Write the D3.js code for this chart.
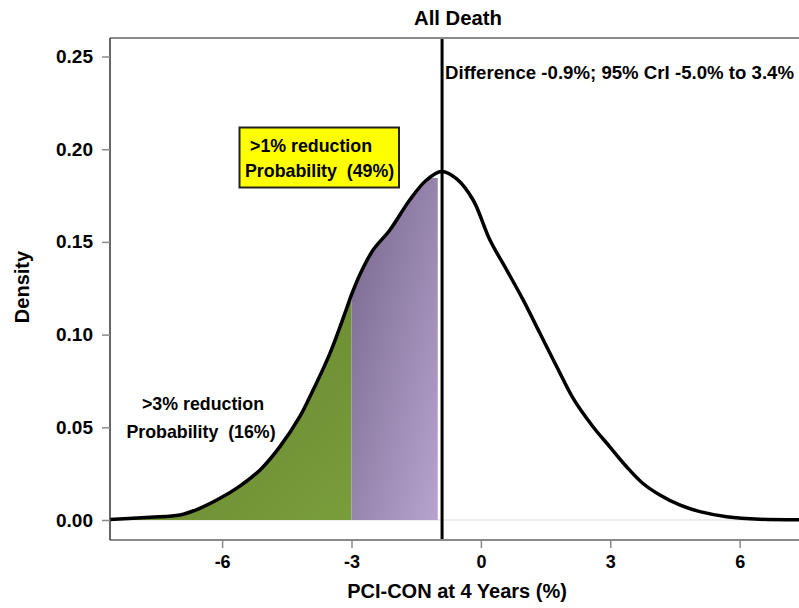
<!DOCTYPE html>
<html><head><meta charset="utf-8">
<script src="https://cdn.jsdelivr.net/npm/d3@7"></script>
<style>
html,body{margin:0;padding:0;background:#fff;}
svg{display:block;}
text{font-family:"Liberation Sans",Arial,sans-serif;font-weight:bold;fill:#000;}
</style></head>
<body>
<svg id="chart" width="799" height="608"></svg>
<script>
// ---- data ----
const diffX = [-8.60,-7.67,-6.98,-6.52,-6.05,-5.59,-5.12,-4.66,-4.20,-3.89,-3.50,-3.11,-3.00,-2.81,-2.50,-2.11,-1.65,-1.26,-0.91,-0.56,-0.18,0.21,0.60,0.98,1.37,1.76,2.14,2.60,2.99,3.38,3.76,4.15,4.61,5.08,5.70,6.47,7.40];
const density = [0.0003,0.0015,0.0027,0.0063,0.0117,0.0183,0.0270,0.0396,0.0557,0.0701,0.0899,0.1143,0.1215,0.1322,0.1456,0.1564,0.1726,0.1834,0.1880,0.1840,0.1726,0.1510,0.1348,0.1187,0.1007,0.0827,0.0656,0.0503,0.0395,0.0287,0.0197,0.0135,0.0081,0.0045,0.0018,0.0004,0.0002];
const xTicks = [-6,-3,0,3,6];
const yTicks = [0,0.05,0.10,0.15,0.20,0.25];
const meanDiff = -0.9;
const cut3 = -3, cut1 = -1;
const title = "All Death";
const xTitle = "PCI-CON at 4 Years (%)";
const yTitle = "Density";
const ciText = "Difference -0.9%; 95% CrI -5.0% to 3.4%";

const svg = d3.select("#chart");
const x = d3.scaleLinear().domain([-8.6, 7.4]).range([110, 800]);
const y = d3.scaleLinear().domain([0, 0.25]).range([520, 56.5]);
const plotTop = 38, plotBottom = 540, plotLeft = 110, plotRight = 799;

const pts = diffX.map((d,i)=>[d, density[i]]);
const curve = d3.curveCatmullRom.alpha(0.5);
const area = d3.area().x(d=>x(d[0])).y0(y(0)).y1(d=>y(d[1])).curve(curve);

const defs = svg.append("defs");
const g1 = defs.append("linearGradient").attr("id","gGreen").attr("x1","0").attr("y1","0").attr("x2","1").attr("y2","1");
g1.append("stop").attr("offset","0").attr("stop-color","#62802a");
g1.append("stop").attr("offset","1").attr("stop-color","#7a9d3c");
const g2 = defs.append("linearGradient").attr("id","gPurple").attr("x1","0").attr("y1","0").attr("x2","1").attr("y2","1");
g2.append("stop").attr("offset","0").attr("stop-color","#76668b");
g2.append("stop").attr("offset","1").attr("stop-color","#b6a4cf");
defs.append("clipPath").attr("id","cArea").append("path").datum(pts).attr("d",area);

// baseline
svg.append("line").attr("x1",plotLeft).attr("x2",plotRight).attr("y1",y(0)).attr("y2",y(0))
  .attr("stroke","#dcdcdc").attr("stroke-width",1.2);

// shaded regions: rects clipped by the density area
const maxIn = (a,b)=> d3.max(pts.filter(p=>p[0]>=a && p[0]<=b), p=>p[1]);
svg.append("rect").attr("x",x(-8.6)).attr("width",x(cut3)-x(-8.6))
  .attr("y",y(maxIn(-8.6,cut3))).attr("height",y(0)-y(maxIn(-8.6,cut3)))
  .attr("fill","url(#gGreen)").attr("clip-path","url(#cArea)");
svg.append("rect").attr("x",x(cut3)).attr("width",x(cut1)-x(cut3))
  .attr("y",y(maxIn(cut3,cut1))-2).attr("height",y(0)-y(maxIn(cut3,cut1))+2)
  .attr("fill","url(#gPurple)").attr("clip-path","url(#cArea)");

const line = d3.line().x(d=>x(d[0])).y(d=>y(d[1])).curve(curve);
svg.append("path").datum(pts).attr("d",line).attr("fill","none").attr("stroke","#000").attr("stroke-width",3.5).attr("stroke-linejoin","round");

// vertical mean line
svg.append("line").attr("x1",x(meanDiff)).attr("x2",x(meanDiff)).attr("y1",plotTop).attr("y2",plotBottom)
  .attr("stroke","#000").attr("stroke-width",3);

// frame
svg.append("line").attr("x1",plotLeft).attr("x2",plotRight).attr("y1",plotTop).attr("y2",plotTop).attr("stroke","#8a8a8a").attr("stroke-width",2);
svg.append("line").attr("x1",plotLeft).attr("x2",plotRight).attr("y1",plotBottom).attr("y2",plotBottom).attr("stroke","#8a8a8a").attr("stroke-width",2);
svg.append("line").attr("x1",plotLeft).attr("x2",plotLeft).attr("y1",plotTop).attr("y2",plotBottom).attr("stroke","#333").attr("stroke-width",1.5);

// axes
const xAxis = d3.axisBottom(x).tickValues(xTicks).tickSize(8).tickPadding(7).tickFormat(d3.format("d"));
const gx = svg.append("g").attr("transform",`translate(0,${plotBottom})`).call(xAxis);
gx.select(".domain").remove();
gx.selectAll(".tick line").attr("stroke","#8a8a8a").attr("stroke-width",1.5);
gx.selectAll(".tick text").attr("font-size",18).style("font-family","Liberation Sans, Arial, sans-serif").style("font-weight","bold").attr("fill","#000")
  .text(d=> d<0 ? "-"+Math.abs(d) : d);

const yAxis = d3.axisLeft(y).tickValues(yTicks).tickSize(8).tickPadding(9).tickFormat(d3.format(".2f"));
const gy = svg.append("g").attr("transform",`translate(${plotLeft},0)`).call(yAxis);
gy.select(".domain").remove();
gy.selectAll(".tick line").attr("stroke","#8a8a8a").attr("stroke-width",1.5);
gy.selectAll(".tick text").attr("font-size",19).style("font-family","Liberation Sans, Arial, sans-serif").style("font-weight","bold").attr("fill","#000");

// titles
svg.append("text").attr("x",458).attr("y",25).attr("text-anchor","middle").attr("font-size",20.3).text(title);
svg.append("text").attr("x",457).attr("y",598).attr("text-anchor","middle").attr("font-size",20).text(xTitle);
svg.append("text").attr("transform","translate(29,287) rotate(-90)").attr("text-anchor","middle").attr("font-size",20).text(yTitle);

// CI text
svg.append("text").attr("x",445).attr("y",79).attr("font-size",18.6).attr("textLength",349).attr("lengthAdjust","spacing").text(ciText);

// yellow box
svg.append("rect").attr("x",239.5).attr("y",127.5).attr("width",159.5).attr("height",60)
  .attr("fill","#ffff00").attr("stroke","#222").attr("stroke-width",2);
svg.append("text").attr("x",250).attr("y",152).attr("font-size",17.8).style("white-space","pre").text(">1% reduction");
svg.append("text").attr("x",245).attr("y",177).attr("font-size",17.8).style("white-space","pre").text("Probability  (49%)");

// green label
svg.append("text").attr("x",203).attr("y",410).attr("text-anchor","middle").attr("font-size",17.8).style("white-space","pre").text(">3% reduction");
svg.append("text").attr("x",201).attr("y",438).attr("text-anchor","middle").attr("font-size",17.8).style("white-space","pre").text("Probability  (16%)");
</script>
</body></html>
